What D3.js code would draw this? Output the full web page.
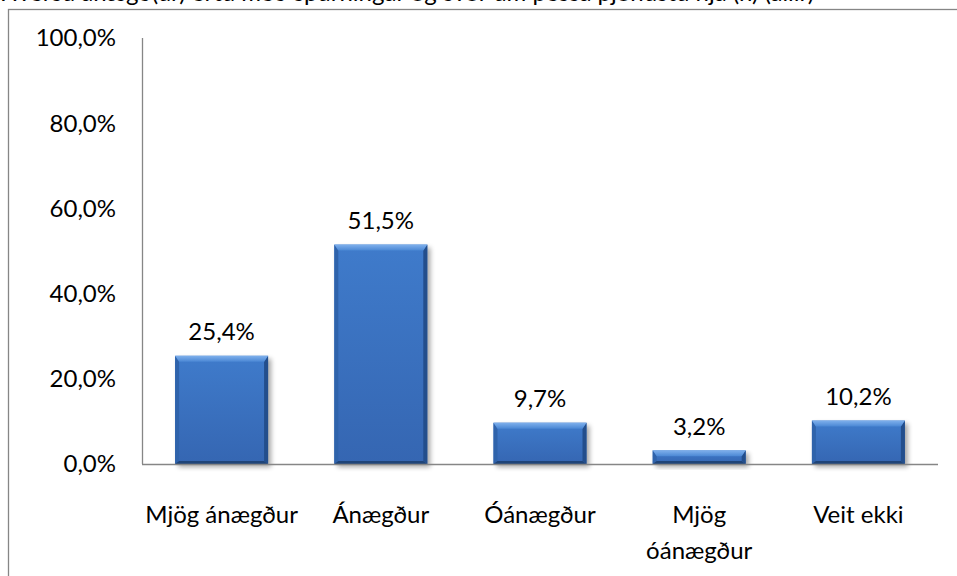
<!DOCTYPE html>
<html>
<head>
<meta charset="utf-8">
<script src="https://cdn.jsdelivr.net/npm/d3@7"></script>
<style>
    body { margin: 0; background: #ffffff; }
    svg { display: block; font-family: Lato, "Open Sans", sans-serif; }
</style>
</head>
<body>
<svg id="chart"></svg>
<script>

const categories = ["Mjög ánægður", "Ánægður", "Óánægður", "Mjög óánægður", "Veit ekki"]
const values = [25.4, 51.5, 9.7, 3.2, 10.2]
const yTicks = [0, 20, 40, 60, 80, 100]
const title = "Hversu ánægð(ur) ertu með spurningar og svör um þessa þjónustu hjá (n) (allir)"

const w = 957
const h = 576
const fontSize = 24

const svg = d3.select("#chart")
    .attr("width", w)
    .attr("height", h)

// plot area
const plotLeft = 142
const plotRight = 938
const plotTop = 38
const plotBottom = 464

const xScale = d3.scaleBand()
    .domain(categories)
    .range([plotLeft, plotRight])
    .paddingInner(0.416)
    .paddingOuter(0.208)

const yScale = d3.scaleLinear()
    .domain([0, 100])
    .range([plotBottom, plotTop])

const fmt = v => v.toFixed(1).replace(".", ",") + "%"

// title, cut off by the top of the picture as in the original
svg.append("text")
    .attr("x", 0)
    .attr("y", 1)
    .attr("font-size", 24)
    .attr("fill", "#000")
    .text(title)

// chart frame
svg.append("rect")
    .attr("x", 8.5)
    .attr("y", 9.5)
    .attr("width", w + 20)
    .attr("height", h + 20)
    .attr("fill", "#fff")
    .attr("stroke", "#868686")
    .attr("stroke-width", 1.3)

// gradients
const defs = svg.append("defs")

const bodyGrad = defs.append("linearGradient")
    .attr("id", "bodyGrad")
    .attr("x1", 0).attr("y1", 0).attr("x2", 0).attr("y2", 1)
bodyGrad.append("stop").attr("offset", "0%").attr("stop-color", "#3f7bcb")
bodyGrad.append("stop").attr("offset", "100%").attr("stop-color", "#3566b2")

const topGrad = defs.append("linearGradient")
    .attr("id", "topGrad")
    .attr("x1", 0).attr("y1", 0).attr("x2", 0).attr("y2", 1)
topGrad.append("stop").attr("offset", "0%").attr("stop-color", "#7fb0ec")
topGrad.append("stop").attr("offset", "100%").attr("stop-color", "#4a87d4")

const shadow = defs.append("filter")
    .attr("id", "shadow")
    .attr("x", "-20%").attr("y", "-20%").attr("width", "140%").attr("height", "140%")
shadow.append("feGaussianBlur").attr("stdDeviation", 2.5)

// y axis labels
svg.append("g")
    .selectAll("text")
    .data(yTicks)
    .join("text")
    .attr("x", 116)
    .attr("y", d => yScale(d))
    .attr("dy", "0.35em")
    .attr("text-anchor", "end")
    .attr("font-size", fontSize)
    .attr("fill", "#000")
    .text(d => fmt(d))

// bars
const bars = svg.append("g")
    .selectAll("g")
    .data(values)
    .join("g")

const bw = xScale.bandwidth()

bars.append("rect")
    .attr("x", (d, i) => xScale(categories[i]) + 3)
    .attr("y", d => yScale(d) + 3)
    .attr("width", bw)
    .attr("height", d => plotBottom - yScale(d))
    .attr("fill", "#000")
    .attr("opacity", 0.35)
    .attr("filter", "url(#shadow)")

bars.append("rect")
    .attr("x", (d, i) => xScale(categories[i]))
    .attr("y", d => yScale(d))
    .attr("width", bw)
    .attr("height", d => plotBottom - yScale(d))
    .attr("fill", "url(#bodyGrad)")

function bevelPath(d, i, side){
    const x0 = xScale(categories[i])
    const x1 = x0 + bw
    const y0 = yScale(d)
    const y1 = plotBottom
    const b = Math.min(6, (y1 - y0) / 2)
    const s = 4
    if(side === "top")
        return `M${x0},${y0}L${x1},${y0}L${x1 - s},${y0 + b}L${x0 + s},${y0 + b}Z`
    if(side === "bottom")
        return `M${x0},${y1}L${x1},${y1}L${x1 - s},${y1 - 3}L${x0 + s},${y1 - 3}Z`
    if(side === "left")
        return `M${x0},${y0}L${x0 + s},${y0 + b}L${x0 + s},${y1 - 3}L${x0},${y1}Z`
    return `M${x1},${y0}L${x1 - s},${y0 + b}L${x1 - s},${y1 - 3}L${x1},${y1}Z`
}

bars.append("path")
    .attr("d", (d, i) => bevelPath(d, i, "left"))
    .attr("fill", "#2f63ab")
bars.append("path")
    .attr("d", (d, i) => bevelPath(d, i, "right"))
    .attr("fill", "#234e8c")
bars.append("path")
    .attr("d", (d, i) => bevelPath(d, i, "bottom"))
    .attr("fill", "#1f4478")
bars.append("path")
    .attr("d", (d, i) => bevelPath(d, i, "top"))
    .attr("fill", "url(#topGrad)")

// data labels
bars.append("text")
    .attr("x", (d, i) => xScale(categories[i]) + bw / 2)
    .attr("y", d => yScale(d) - 24)
    .attr("dy", "0.35em")
    .attr("text-anchor", "middle")
    .attr("font-size", fontSize)
    .attr("fill", "#000")
    .text(d => fmt(d))

// axes lines
svg.append("line")
    .attr("x1", plotLeft + 0.5).attr("x2", plotLeft + 0.5)
    .attr("y1", plotTop).attr("y2", plotBottom)
    .attr("stroke", "#868686")
    .attr("stroke-width", 1.3)

svg.append("line")
    .attr("x1", plotLeft).attr("x2", plotRight)
    .attr("y1", plotBottom + 0.5).attr("y2", plotBottom + 0.5)
    .attr("stroke", "#868686")
    .attr("stroke-width", 1.3)

// category labels, wrapped when too wide
const maxLabelW = xScale.step() - 4

svg.append("g")
    .selectAll("text")
    .data(categories)
    .join("text")
    .attr("x", d => xScale(d) + bw / 2)
    .attr("y", 515)
    .attr("dy", "0.35em")
    .attr("text-anchor", "middle")
    .attr("font-size", fontSize)
    .attr("fill", "#000")
    .each(function(d){
        const el = d3.select(this)
        el.text(d)
        if(this.getComputedTextLength() > maxLabelW){
            const words = d.split(" ")
            el.text(null)
            words.forEach((word, k) => {
                el.append("tspan")
                    .attr("x", xScale(d) + bw / 2)
                    .attr("dy", k === 0 ? "0.35em" : 36)
                    .text(word)
            })
        }
    })

</script>
</body>
</html>
